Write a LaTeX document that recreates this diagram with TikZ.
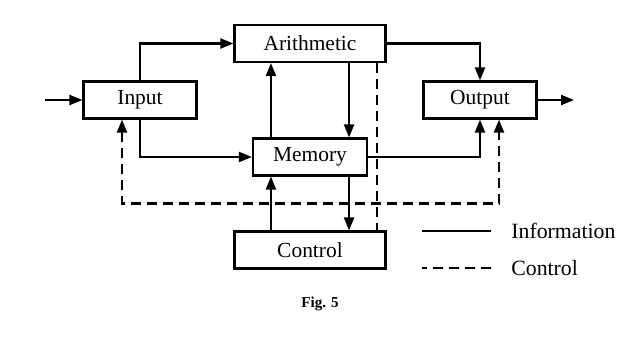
\documentclass[tikz,border=0pt]{standalone}
\usepackage{fontspec}
\setmainfont{Liberation Serif}
\usepackage{tikz}
\usetikzlibrary{
    arrows.meta,
    calc
}

\tikzset{
    unit/.style={draw, line width=1.2pt, minimum height=7.4mm, inner sep=0pt,
        font=\fontsize{12.2}{14}\selectfont},
    info/.style={line width=1.2pt, -{Triangle[length=2.6mm,width=2mm]}},
    ctrl/.style={line width=1.2pt, dash pattern=on 2mm off 1.2mm}
}

\begin{document}
\begin{tikzpicture}[x=0.2mm,y=-0.2mm]
\useasboundingbox (0,0) rectangle (641,345);

% Units
\node[unit, minimum width=22.6mm] (input) at (140,100) {Input};
\node[unit, minimum width=30.2mm] (arith) at (310,43.5) {Arithmetic};
\node[unit, minimum width=22.8mm] (memory) at (310,157) {Memory};
\node[unit, minimum width=22.6mm] (output) at (480,100) {Output};
\node[unit, minimum width=30.2mm] (control) at (310,250) {Control};

% Helper points
\coordinate (inlead) at (45,100);
\coordinate (outlead) at (574,100);
\coordinate (memleft) at ($(memory.north west)+(19,0)$);
\coordinate (memright) at ($(memory.north east)+(-19,0)$);
\coordinate (arithdash) at ($(arith.south east)+(-10,0)$);
\coordinate (indash) at ($(input.south)+(-18,0)$);
\coordinate (outdash) at ($(output.south)+(19,0)$);
\coordinate (bus) at (0,203.5);

% Information lines
\draw[info] (inlead) -- (input.west);
\draw[info] (input.north) |- (arith.west);
\draw[info] (input.south) |- (memory.west);
\draw[info] (memleft) -- (memleft |- arith.south);
\draw[info] (memright |- arith.south) -- (memright);
\draw[info] (arith.east) -| (output.north);
\draw[info] (memory.east) -| (output.south);
\draw[info] (output.east) -- (outlead);
\draw[info] (memleft |- control.north) -- (memleft |- memory.south);
\draw[info] (memright |- memory.south) -- (memright |- control.north);

% Control lines
\draw[ctrl] (arithdash) -- (arithdash |- control.north);
\draw[ctrl, {Triangle[length=2.6mm,width=2mm]}-{Triangle[length=2.6mm,width=2mm]}]
    (indash) -- (indash |- bus) -| (outdash);

% Legend
\node[anchor=west, inner sep=0pt, font=\fontsize{12.4}{14}\selectfont] (infolbl) at (511,231) {Information};
\node[anchor=west, inner sep=0pt, font=\fontsize{12.4}{14}\selectfont] (ctrllbl) at (511,268) {Control};
\draw[line width=1.2pt] ($(infolbl.west)+(-20,0)$) -- ++(-69,0);
\draw[ctrl] ($(ctrllbl.west)+(-20,0)$) -- ++(-69,0);

% Caption
\node[font=\fontsize{8.6}{10}\selectfont\bfseries] (caption) at (320,304) {Fig. 5};

\end{tikzpicture}
\end{document}
